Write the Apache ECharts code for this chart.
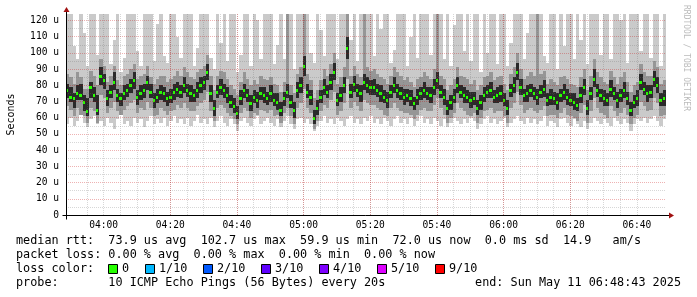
<!DOCTYPE html>
<html><head><meta charset="utf-8">
<script src="https://cdn.jsdelivr.net/npm/echarts@6/dist/echarts.min.js"></script>
<style>html,body{margin:0;padding:0;background:#fff}#c{width:697px;height:297px}</style>
</head><body><div id="c"></div>
<script>
// time in minutes since 00:00; graph spans 03:48:43 .. 06:48:43, one sample per minute
const startMin = 228 + 43/60;
const endMin = startMin + 180;
const xMajorValues = [240,260,280,300,320,340,360,380,400];
const xMajorLabels = ['04:00','04:20','04:40','05:00','05:20','05:40','06:00','06:20','06:40'];
const xMinorValues = [230,235,240,245,250,255,260,265,270,275,280,285,290,295,300,305,310,315,320,325,330,335,340,345,350,355,360,365,370,375,380,385,390,395,400,405];
const yLabelValues = [0,10,20,30,40,50,60,70,80,90,100,110,120];
const yLabels = ['0','10 u','20 u','30 u','40 u','50 u','60 u','70 u','80 u','90 u','100 u','110 u','120 u'];

// median rtt (us)
const med = [77,73,72,75,74,70,64,79,74,65, 86,83,72,76,82,74,72,75,77,80, 83,73,75,77,82,76,71,73,76,75,
72,73,76,78,76,80,77,75,74,77, 80,82,88,75,66,76,79,77,74,70, 67,63,72,77,74,69,73,71,75,74,
72,75,71,70,65,72,76,70,65,77, 80,92,76,73,60,66,73,79,76,82, 88,71,74,80,103,76,81,77,75,82,
80,79,79,77,75,73,71,76,80,77, 75,73,74,72,69,73,75,77,75,74, 79,83,76,73,66,70,73,80,76,74,
73,71,72,66,70,74,76,77,73,74, 75,71,66,77,80,88,79,74,75,77, 75,73,76,78,71,73,72,70,74,76,
73,71,70,68,74,79,66,75,84,77, 74,72,71,78,75,71,74,77,72,65, 70,72,82,78,75,76,84,80,71,72];
// outer smoke (min .. max ping); values above the top are clipped
const hi1 = [150,150,104,96,150,112,92,150,150,99, 150,150,150,93,108,150,88,97,150,150, 150,101,92,150,150,150,95,118,150,98,
94,150,150,110,97,150,150,150,92,103, 150,150,150,97,90,150,106,150,95,150, 150,88,99,150,150,92,150,120,96,150,
150,150,93,105,150,96,150,150,90,150, 150,150,150,100,94,150,114,98,150,150, 150,96,150,150,150,108,150,95,150,150,
150,150,98,150,115,150,150,94,102,150, 150,150,92,110,150,97,150,150,150,99, 150,150,150,96,150,92,117,150,150,101,
150,95,150,150,88,150,100,150,150,93, 150,150,92,106,150,150,150,96,112,150, 150,150,150,98,94,150,150,90,150,104,
150,150,96,150,108,150,93,150,150,150, 99,150,150,96,150,150,120,150,94,150, 150,150,101,150,150,97,150,150,92,150];
const lo1 = [56,60,55,58,62,57,54,59,61,56, 58,55,60,57,53,59,62,56,58,55, 60,57,59,54,58,61,56,59,57,60,
55,58,61,57,59,56,60,55,58,62, 57,59,56,60,54,58,61,57,55,59, 56,52,58,60,57,55,59,61,56,58,
60,57,55,59,54,58,61,56,53,59, 60,57,59,56,52,55,58,61,57,59, 56,60,58,55,59,61,57,59,56,60,
58,61,57,59,56,60,58,55,59,61, 57,59,56,60,55,58,61,57,59,56, 60,58,55,59,54,57,60,58,56,59,
57,60,58,53,56,59,61,57,59,56, 58,60,54,57,59,61,58,56,60,57, 59,56,58,61,55,58,57,54,59,60,
57,55,59,56,54,58,53,57,60,58, 56,59,57,55,60,58,56,59,57,52, 56,59,58,60,57,59,61,58,55,59];
// middle smoke
const hi2 = [87,85,81,88,85,78,78,89,86,80, 96,92,82,86,92,83,80,86,87,90, 93,84,86,87,92,85,81,84,86,86,
82,84,86,89,86,91,88,85,84,88, 90,92,99,86,77,86,89,88,84,80, 78,74,82,88,84,80,83,81,86,84,
83,85,81,80,76,82,150,80,75,87, 91,150,87,83,72,77,83,90,86,93, 100,81,85,91,150,86,92,87,85,150,
91,89,90,87,85,84,81,86,91,88, 86,83,85,82,79,84,85,88,86,84, 90,150,86,84,77,80,84,91,86,85,
84,81,83,77,80,85,86,88,83,85, 86,81,77,87,91,100,90,84,86,88, 86,150,87,89,81,84,82,80,85,86,
84,81,80,79,85,90,77,86,96,88, 85,82,81,89,85,81,85,88,82,76, 80,82,93,88,86,86,95,91,81,83];
const lo2 = [67,65,61,66,62,61,57,66,64,57, 74,72,63,66,70,64,62,65,67,69, 71,63,66,65,70,66,61,62,66,64,
62,64,65,68,66,69,66,64,64,67, 69,71,76,64,58,66,68,66,63,61, 59,56,63,66,64,60,63,62,65,64,
63,65,61,62,57,63,66,61,56,66, 69,78,66,63,53,58,64,68,66,71, 76,62,64,69,84,66,70,67,64,71,
69,68,68,66,65,62,61,66,69,66, 64,63,63,62,59,62,65,66,64,64, 68,72,66,62,57,60,63,69,66,64,
62,61,63,57,60,64,65,66,63,64, 64,61,57,66,69,76,68,63,65,66, 64,63,65,67,61,62,62,60,63,66,
62,61,60,58,63,68,57,64,72,66, 63,62,60,67,64,61,63,66,62,56, 60,62,70,67,64,65,72,69,61,62];
// inner smoke
const hi3 = [81,79,75,80,81,74,72,82,79,74, 91,87,77,80,88,78,75,80,81,84, 88,77,80,81,86,81,75,78,80,79,
76,78,81,82,80,85,81,80,78,82, 85,86,93,80,71,80,84,81,79,74, 72,67,77,81,78,74,77,76,79,79,
76,80,75,75,70,76,81,74,70,82, 85,98,81,77,65,71,77,84,80,87, 94,75,79,85,110,81,86,81,80,87,
85,83,84,81,80,77,76,80,85,81, 79,78,78,77,73,78,79,82,79,79, 84,88,80,78,71,74,78,85,80,79,
77,76,76,71,74,79,80,82,77,79, 80,75,71,81,85,94,84,78,80,81, 79,78,80,83,75,78,76,75,78,81,
78,75,75,72,79,84,71,79,90,81, 78,77,75,83,79,76,78,82,76,70, 74,77,87,82,80,80,89,85,75,77];
const lo3 = [72,70,66,71,71,64,61,72,70,62, 80,78,67,72,77,70,67,71,73,75, 78,68,71,72,77,72,66,69,71,70,
67,69,71,73,72,75,73,70,70,72, 75,77,83,70,61,72,74,72,69,66, 63,59,68,72,70,64,69,66,71,69,
68,70,67,65,61,67,72,66,60,72, 75,86,72,68,56,62,69,74,72,77, 83,67,70,75,96,72,76,73,70,77,
75,74,74,73,70,69,66,72,75,72, 71,68,70,67,65,68,71,72,71,69, 74,78,72,68,62,65,69,75,72,69,
69,66,68,62,65,70,72,72,69,69, 70,67,62,73,75,83,74,70,70,73, 71,68,72,73,67,68,68,65,70,71,
68,67,65,64,69,74,62,71,79,73, 70,67,67,73,71,66,70,72,68,61, 66,67,77,74,70,72,79,75,67,67];

const lossLabels = ['0','1/10','2/10','3/10','4/10','5/10','9/10'];
const lossColors = ['#26ff00','#00b8ff','#0059ff','#5e00ff','#7e00ff','#dd00ff','#ff0000'];

const legendLine1 = 'median rtt:  73.9 us avg  102.7 us max  59.9 us min  72.0 us now  0.0 ms sd  14.9   am/s';
const legendLine2 = 'packet loss: 0.00 % avg  0.00 % max  0.00 % min  0.00 % now';
const legendLine3 = 'loss color:';
const legendLine4 = 'probe:       10 ICMP Echo Pings (56 Bytes) every 20s';
const endText = 'end: Sun May 11 06:48:43 2025';

const MONO = '"DejaVu Sans Mono", monospace';

function band(lo, hi) {
  return lo.map((v, i) => [startMin + i, v, hi[i]]);
}
function bandSeries(name, data, color) {
  return {
    type: 'custom', name, xAxisIndex: 1, yAxisIndex: 0, clip: true, z: 1, silent: true,
    data,
    renderItem: function (params, api) {
      const t = api.value(0);
      const a = api.coord([t, api.value(2)]);
      const b = api.coord([t + 1, api.value(1)]);
      const x0 = Math.round(a[0]), x1 = Math.round(b[0]);
      const y0 = Math.round(a[1]), y1 = Math.round(b[1]);
      return { type: 'rect', shape: { x: x0, y: y0, width: x1 - x0, height: y1 - y0 }, style: { fill: color } };
    }
  };
}

const chart = echarts.init(document.getElementById('c'), null, { renderer: 'canvas' });
const minorGrid = 'rgba(110,110,110,0.28)';
const majorGrid = 'rgba(200,0,0,0.30)';
const option = {
  animation: false,
  backgroundColor: '#ffffff',
  grid: { left: 66, right: 31, top: 14, bottom: 82, containLabel: false, outerBoundsMode: 'none' },
  xAxis: [
    { type: 'value', min: startMin, max: endMin, position: 'bottom', z: 3,
      axisLine: { show: false }, axisLabel: { show: false },
      axisTick: { show: false, customValues: xMinorValues },
      splitLine: { show: true, showMinLine: false, showMaxLine: false, lineStyle: { color: minorGrid, width: 1, type: [1, 1] } } },
    { type: 'value', min: startMin, max: endMin, position: 'bottom', z: 4,
      axisLine: { show: false },
      axisTick: { show: false, customValues: xMajorValues },
      axisLabel: { show: true, customValues: xMajorValues, margin: 5, color: '#000', fontFamily: MONO, fontSize: 9.6,
        formatter: v => xMajorLabels[xMajorValues.indexOf(v)] },
      splitLine: { show: true, showMinLine: false, showMaxLine: false, lineStyle: { color: majorGrid, width: 1, type: [1, 1] } } }
  ],
  yAxis: [{
    type: 'value', min: 0, max: 124, interval: 5, z: 3,
    axisLine: { show: false }, axisTick: { show: false },
    axisLabel: { margin: 7, color: '#000', fontFamily: MONO, fontSize: 9.6,
      formatter: v => { const k = yLabelValues.indexOf(v); return k >= 0 ? yLabels[k] : ''; } },
    splitLine: { show: true, showMinLine: false, showMaxLine: false, lineStyle: { color: [minorGrid, majorGrid], width: 1, type: [1, 1] } },
    name: 'Seconds', nameLocation: 'middle', nameGap: 50, nameRotate: 90,
    nameTextStyle: { color: '#000', fontFamily: MONO, fontSize: 10 }
  }],
  series: [
    bandSeries('smoke1', band(lo1, hi1), '#cacaca'),
    bandSeries('smoke2', band(lo2, hi2), '#969696'),
    bandSeries('smoke3', band(lo3, hi3), '#2a2a2a'),
    {
      type: 'custom', name: 'median', xAxisIndex: 1, yAxisIndex: 0, clip: true, z: 2, silent: true,
      data: med.map((v, i) => [startMin + i, v]),
      renderItem: function (params, api) {
        const t = api.value(0), v = api.value(1);
        const a = api.coord([t, v]);
        const b = api.coord([t + 1, v]);
        const x0 = Math.round(a[0]), x1 = Math.round(b[0]);
        const yc = Math.round(a[1]);
        return { type: 'rect', shape: { x: x0, y: yc - 1, width: Math.max(2, x1 - x0 - 1), height: 3 }, style: { fill: lossColors[0] } };
      }
    }
  ]
};
chart.setOption(option);

// axis lines, arrows, legend texts
const pO = chart.convertToPixel({ xAxisIndex: 1, yAxisIndex: 0 }, [startMin, 0]);
const pE = chart.convertToPixel({ xAxisIndex: 1, yAxisIndex: 0 }, [endMin, 124]);
const ox = Math.round(pO[0]) + 0.5, oy = Math.round(pO[1]) + 0.5;
const ex = Math.round(pE[0]), ty = Math.round(pE[1]);
const arrowColor = '#a01010';
const g = [
  { type: 'line', z: 10, shape: { x1: ox - 4, y1: oy, x2: ex + 3, y2: oy }, style: { stroke: '#000', lineWidth: 1 } },
  { type: 'line', z: 10, shape: { x1: ox, y1: oy + 4, x2: ox, y2: ty - 2 }, style: { stroke: '#000', lineWidth: 1 } },
  { type: 'polygon', z: 11, shape: { points: [[ex + 3, oy - 3], [ex + 8, oy], [ex + 3, oy + 3]] }, style: { fill: arrowColor } },
  { type: 'polygon', z: 11, shape: { points: [[ox - 3, ty - 2], [ox, ty - 7], [ox + 3, ty - 2]] }, style: { fill: arrowColor } },
  { type: 'text', z: 10, left: 682, top: 5, rotation: -Math.PI / 2, style: { text: 'RRDTOOL / TOBI OETIKER', fill: '#bbbbbb', font: '8px ' + MONO } }
];
const lineY = [241, 255, 269, 283];
const tf = '11.8px ' + MONO;
g.push({ type: 'text', z: 10, x: 16, y: lineY[0], style: { text: legendLine1, fill: '#000', font: tf, verticalAlign: 'middle' } });
g.push({ type: 'text', z: 10, x: 16, y: lineY[1], style: { text: legendLine2, fill: '#000', font: tf, verticalAlign: 'middle' } });
g.push({ type: 'text', z: 10, x: 16, y: lineY[2], style: { text: legendLine3, fill: '#000', font: tf, verticalAlign: 'middle' } });
g.push({ type: 'text', z: 10, x: 16, y: lineY[3], style: { text: legendLine4, fill: '#000', font: tf, verticalAlign: 'middle' } });
g.push({ type: 'text', z: 10, x: 681, y: lineY[3], style: { text: endText, fill: '#000', font: tf, verticalAlign: 'middle', align: 'right' } });
const boxX = [108, 145, 203, 261, 319, 377, 435];
lossLabels.forEach((lab, k) => {
  g.push({ type: 'rect', z: 10, shape: { x: boxX[k] + 0.5, y: lineY[2] - 4.5, width: 9, height: 9 }, style: { fill: lossColors[k], stroke: '#000', lineWidth: 1 } });
  g.push({ type: 'text', z: 10, x: boxX[k] + 14, y: lineY[2], style: { text: lab, fill: '#000', font: tf, verticalAlign: 'middle' } });
});
chart.setOption({ graphic: g });
</script>
</body></html>
